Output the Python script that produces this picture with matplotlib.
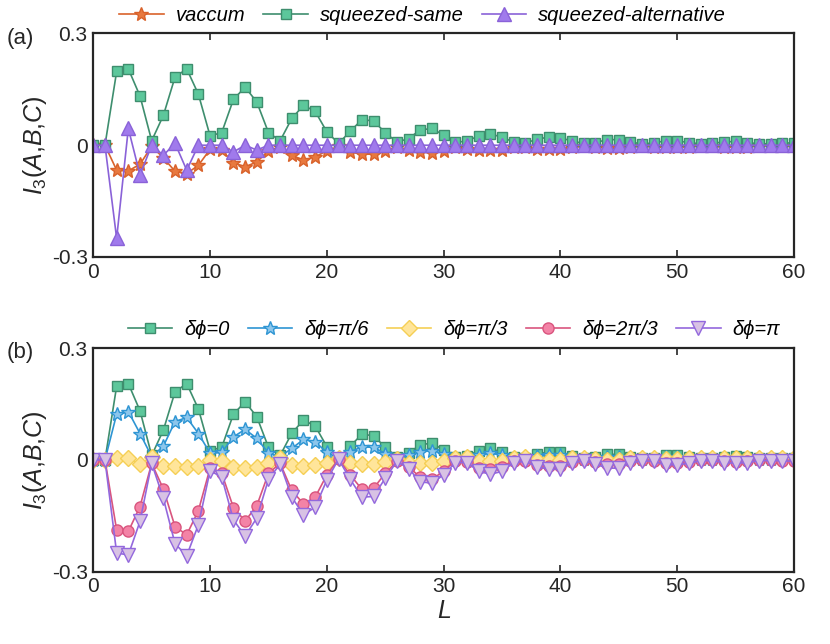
import numpy as np
import matplotlib
matplotlib.use('Agg')
import matplotlib.pyplot as plt

plt.rcParams['font.family'] = ['Liberation Sans', 'DejaVu Sans']
plt.rcParams['mathtext.fontset'] = 'custom'
plt.rcParams['mathtext.it'] = 'Liberation Sans:italic'
plt.rcParams['mathtext.rm'] = 'Liberation Sans'

# Datos
L = np.arange(0, 61)

vaccum = [0, 0, -0.067, -0.069, -0.051, -0.003, -0.034, -0.07, -0.076, -0.054,
          -0.011, -0.013, -0.047, -0.058, -0.045, -0.015, -0.004, -0.027, -0.04, -0.031,
          -0.015, -0.003, -0.018, -0.024, -0.024, -0.015, -0.004, -0.013, -0.019, -0.02,
          -0.015, -0.004, -0.009, -0.013, -0.014, -0.012, -0.005, -0.004, -0.009, -0.011,
          -0.01, -0.006, -0.003, -0.005, -0.008, -0.008, -0.005, -0.003, -0.004, -0.006,
          -0.006, -0.004, -0.002, -0.003, -0.005, -0.005, -0.004, -0.002, -0.002, -0.003,
          -0.003]
sq_same = [0, 0, 0.198, 0.205, 0.132, 0.012, 0.08, 0.183, 0.205, 0.137,
           0.025, 0.034, 0.123, 0.156, 0.116, 0.034, 0.012, 0.072, 0.107, 0.091,
           0.036, 0.005, 0.037, 0.069, 0.065, 0.034, 0.008, 0.018, 0.041, 0.045,
           0.027, 0.008, 0.011, 0.025, 0.031, 0.021, 0.009, 0.006, 0.016, 0.022,
           0.02, 0.011, 0.005, 0.007, 0.015, 0.015, 0.008, 0.004, 0.006, 0.012,
           0.012, 0.007, 0.004, 0.005, 0.009, 0.01, 0.007, 0.004, 0.004, 0.006,
           0.006]
sq_alt = [0, 0, -0.25, 0.045, -0.08, 0, -0.027, 0.005, -0.067, 0,
          0, 0, -0.018, 0, -0.013] + [0] * 46

d_0 = sq_same
d_pi6 = [0, 0, 0.123, 0.13, 0.071, 0.009, 0.037, 0.103, 0.114, 0.071,
         0.018, 0.02, 0.062, 0.082, 0.058, 0.018, 0.009, 0.031, 0.055, 0.049,
         0.02, 0.005, 0.022, 0.035, 0.034, 0.017, 0.006, 0.012, 0.022, 0.025,
         0.017, 0.006, 0.008, 0.014, 0.018, 0.013, 0.006, 0.004, 0.01, 0.013,
         0.012, 0.007, 0.003, 0.005, 0.009, 0.009, 0.005, 0.003, 0.004, 0.007,
         0.007, 0.004, 0.002, 0.003, 0.005, 0.006, 0.004, 0.002, 0.003, 0.004,
         0.004]
d_pi3 = [0, 0, 0.004, 0.004, -0.011, 0.008, -0.016, -0.016, -0.018, -0.016,
         0.0, -0.004, -0.018, -0.022, -0.018, -0.009, 0.006, -0.013, -0.016, -0.013,
         -0.009, 0.004, -0.009, -0.012, -0.012, -0.006, 0.003, -0.008, -0.007, -0.007,
         -0.004, 0.006, 0.007, -0.003, -0.004, -0.003, 0.006, 0.007, -0.001, -0.001,
         -0.001, 0.006, 0.006, 0.002, 0.0, 0.0, 0.005, 0.006, 0.004, 0.002,
         0.002, 0.005, 0.006, 0.006, 0.004, 0.004, 0.005, 0.006, 0.006, 0.006,
         0.006]
d_2pi3 = [0, 0, -0.188, -0.192, -0.125, -0.009, -0.078, -0.179, -0.201, -0.136,
          -0.022, -0.036, -0.128, -0.164, -0.123, -0.036, -0.009, -0.082, -0.118, -0.1,
          -0.04, 0.002, -0.04, -0.079, -0.076, -0.036, -0.004, -0.018, -0.047, -0.052,
          -0.03, -0.002, -0.005, -0.022, -0.025, -0.018, -0.002, -0.002, -0.013, -0.016,
          -0.015, -0.005, -0.001, -0.005, -0.01, -0.01, -0.004, -0.001, -0.003, -0.008,
          -0.008, -0.005, -0.001, -0.001, -0.004, -0.005, -0.004, -0.001, -0.001, -0.002,
          -0.003]
d_pi = [0, 0, -0.25, -0.255, -0.165, -0.009, -0.103, -0.225, -0.257, -0.174,
        -0.029, -0.046, -0.161, -0.204, -0.156, -0.052, -0.011, -0.1, -0.147, -0.127,
        -0.054, 0.002, -0.052, -0.1, -0.098, -0.049, -0.004, -0.023, -0.059, -0.062,
        -0.04, -0.007, -0.007, -0.031, -0.038, -0.031, -0.007, -0.004, -0.018, -0.025,
        -0.025, -0.009, -0.002, -0.011, -0.022, -0.022, -0.009, -0.002, -0.004, -0.013,
        -0.013, -0.009, -0.002, -0.002, -0.007, -0.009, -0.007, -0.002, -0.002, -0.002,
        -0.004]

x_ticks = [0, 10, 20, 30, 40, 50, 60]
y_ticks = [-0.3, 0, 0.3]
y_ticklabels = ['-0.3', '0', '0.3']

fig = plt.figure(figsize=(8.3, 6.44), dpi=100)
ax1 = fig.add_axes([0.1124, 0.601, 0.8442, 0.347])
ax2 = fig.add_axes([0.1124, 0.1123, 0.8442, 0.347])

# Panel (a)
ax1.plot(L, vaccum, '-*', color='#D9622B', mfc='#E8793F', mec='#D9622B', ms=10, lw=1.2,
         label='vaccum')
ax1.plot(L, sq_same, '-s', color='#3E8E6E', mfc='#5CC79B', mec='#3E8E6E', ms=7, lw=1.2,
         label='squeezed-same')
ax1.plot(L, sq_alt, '-^', color='#8A62D8', mfc='#A07AEC', mec='#8A62D8', ms=9.5, lw=1.2,
         label='squeezed-alternative')

# Panel (b)
ax2.plot(L, d_0, '-s', color='#3E8E6E', mfc='#5CC79B', mec='#3E8E6E', ms=7, lw=1.2,
         label='δϕ=0')
ax2.plot(L, d_pi6, '-*', color='#2E95D3', mfc='#8CC6EC', mec='#2E95D3', ms=10, lw=1.2,
         label='δϕ=π/6')
ax2.plot(L, d_pi3, '-D', color='#F5CF55', mfc='#FFE59A', mec='#F5CF55', ms=8, lw=1.2,
         label='δϕ=π/3')
ax2.plot(L, d_2pi3, '-o', color='#D9557E', mfc='#F383A6', mec='#D9557E', ms=8, lw=1.2,
         label='δϕ=2π/3')
ax2.plot(L, d_pi, '-v', color='#9368DD', mfc='#D8C2E4', mec='#9368DD', ms=9.5, lw=1.2,
         label='δϕ=π')

for ax in (ax1, ax2):
    ax.set_xlim(0, 60)
    ax.set_ylim(-0.3, 0.3)
    ax.set_xticks(x_ticks)
    ax.set_yticks(y_ticks)
    ax.set_yticklabels(y_ticklabels)
    ax.tick_params(direction='in', top=True, right=True, labelsize=15, length=5,
                   width=1.2, colors='#262626', pad=4)
    for s in ax.spines.values():
        s.set_linewidth(1.6)
        s.set_color('#262626')
    ax.set_ylabel('$I_3(A{,}B{,}C)$', fontsize=18, color='#262626', labelpad=2)

ax2.set_xlabel('$L$', fontsize=18, color='#262626', labelpad=2)

ax1.legend(loc='lower center', bbox_to_anchor=(0.47, 1.03), ncol=3, frameon=False,
           prop={'style': 'italic', 'size': 14.5}, handlelength=2.2, columnspacing=0.9,
           handletextpad=0.6, borderaxespad=0, borderpad=0.1)
ax2.legend(loc='lower center', bbox_to_anchor=(0.515, 1.03), ncol=5, frameon=False,
           prop={'style': 'italic', 'size': 14.5}, handlelength=2.2, columnspacing=0.9,
           handletextpad=0.6, borderaxespad=0, borderpad=0.1)

fig.text(0.008, 0.932, '(a)', fontsize=16, color='#262626')
fig.text(0.008, 0.444, '(b)', fontsize=16, color='#262626')

fig.savefig('out.png', dpi=100)
